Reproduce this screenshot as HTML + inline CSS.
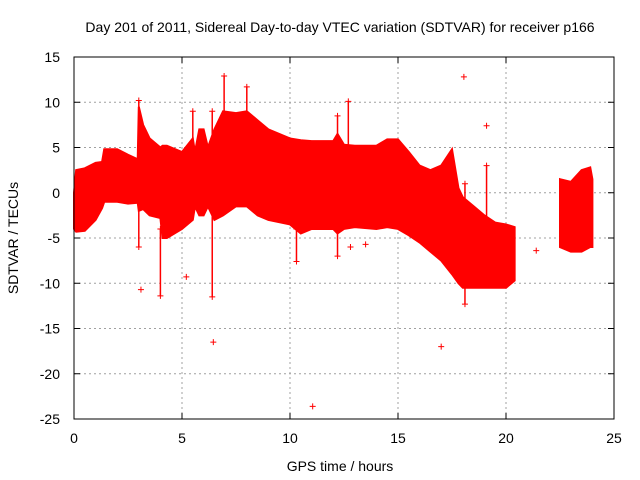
<!DOCTYPE html>
<html><head><meta charset="utf-8"><style>
body{margin:0;background:#fff;}
svg{display:block;font-family:"Liberation Sans",sans-serif;}
</style></head><body>
<svg id="chart" width="640" height="480">
<text x="340" y="32" font-size="14" text-anchor="middle">Day 201 of 2011, Sidereal Day-to-day VTEC variation (SDTVAR) for receiver p166</text>
<text x="340" y="471" font-size="14" text-anchor="middle">GPS time / hours</text>
<text transform="translate(18,238) rotate(-90)" font-size="14" text-anchor="middle">SDTVAR / TECUs</text>
<g id="grid"></g><g id="data"></g>
<rect x="74" y="57" width="540" height="362" fill="none" stroke="#000"/>
</svg>
<script>
const xTicks=[0,5,10,15,20,25];
const yTicks=[15,10,5,0,-5,-10,-15,-20,-25];
const bandHours=[0,0.1,0.5,1.0,1.3,1.4,2.0,2.5,2.95,3.0,3.2,3.5,4.0,4.1,4.3,5.0,5.5,5.6,5.8,6.0,6.2,6.5,6.9,7.5,8.0,8.5,9.0,10.0,10.5,11.0,12.0,12.2,12.5,13.0,14.0,14.5,15.0,15.5,16.0,16.5,17.0,17.5,17.8,18.0,18.5,19.0,19.5,20.0,20.4];
const bandTop=[0,2.5,2.7,3.3,3.4,4.8,4.8,4.2,3.7,9.5,7.5,6.0,5.0,5.2,5.2,4.5,6.0,4.5,7.0,7.0,5.0,7.0,9.0,8.8,9.0,8.0,7.0,6.0,5.8,5.7,5.7,6.5,5.3,5.2,5.2,5.9,5.9,4.5,3.0,2.5,3.0,4.8,0.5,-0.5,-1.5,-2.5,-3.3,-3.5,-3.8];
const bandBottom=[-4,-4.3,-4.2,-3,-1.7,-1.0,-1.0,-1.2,-1.1,-2,-1.8,-2.5,-2.8,-5,-5,-4,-3,-1.5,-2.5,-2.5,-1.5,-3,-2.5,-1.5,-1.5,-2.5,-3,-3.5,-4.5,-4,-4,-4.5,-4,-3.8,-4,-3.8,-4,-4.7,-5.5,-6.5,-7.5,-9,-10,-10.5,-10.5,-10.5,-10.5,-10.5,-9.7];
const band2Hours=[22.5,23.0,23.5,23.9,24.0];
const band2Top=[1.5,1.2,2.5,2.8,1.5];
const band2Bottom=[-6,-6.5,-6.5,-6.0,-6];
const spikeHours=[3.0,4.0,6.4,6.95,8.0,5.5,12.2,12.7,18.1,19.1,10.3];
const spikeTop=[10.2,-4,9,12.9,11.7,9,8.5,10.1,1,3,-4];
const spikeBottom=[-6,-11.4,-11.5,5,8,5,-7,5,-12.3,-3,-7.6];
const outlierHours=[3.1,5.2,6.45,11.05,17.0,18.05,19.1,21.4,12.8,13.5];
const outlierValues=[-10.7,-9.3,-16.5,-23.6,-17,12.8,7.4,-6.4,-6,-5.7];

const NS='http://www.w3.org/2000/svg';
const X=h=>74+h*21.6;
const Y=v=>57+(15-v)*9.05;
const grid=document.getElementById('grid'),data=document.getElementById('data');
function mk(tag,attrs,parent){const e=document.createElementNS(NS,tag);for(const k in attrs)e.setAttribute(k,attrs[k]);parent.appendChild(e);return e;}
xTicks.forEach(t=>{
  if(t>0&&t<25){const g=mk('line',{x1:X(t),x2:X(t),y1:57,y2:419,stroke:'#a0a0a0','stroke-dasharray':'2,3'},grid);
  
  }
  const l=mk('text',{x:X(t),y:443,'font-size':14,'text-anchor':'middle'},grid);l.textContent=t;
  
  
  mk('line',{x1:X(t),x2:X(t),y1:419,y2:413,stroke:'#000'},grid);
  mk('line',{x1:X(t),x2:X(t),y1:57,y2:63,stroke:'#000'},grid);
});
yTicks.forEach(t=>{
  if(t<15&&t>-25){const g=mk('line',{x1:74,x2:614,y1:Y(t),y2:Y(t),stroke:'#a0a0a0','stroke-dasharray':'2,3'},grid);
  
  }
  const l=mk('text',{x:60,y:Y(t)+5,'font-size':14,'text-anchor':'end'},grid);l.textContent=t;
  
  
  mk('line',{x1:74,x2:80,y1:Y(t),y2:Y(t),stroke:'#000'},grid);
  mk('line',{x1:614,x2:608,y1:Y(t),y2:Y(t),stroke:'#000'},grid);
});
function band(hs,top,bot,name){
  let p=hs.map((h,i)=>X(h)+','+Y(top[i]));
  for(let i=hs.length-1;i>=0;i--)p.push(X(hs[i])+','+Y(bot[i]));
  const e=mk('polygon',{points:p.join(' '),fill:'#ff0000',stroke:'#ff0000','stroke-width':2},data);
  
  
}
band(bandHours,bandTop,bandBottom,'sdtvar-band-main');
band(band2Hours,band2Top,band2Bottom,'sdtvar-band-late');
function plus(x,y){mk('path',{d:`M${x-3},${y}h6M${x},${y-3}v6`,stroke:'#ff0000','stroke-width':1},data);}
spikeHours.forEach((h,i)=>{
  const e=mk('line',{x1:X(h),x2:X(h),y1:Y(spikeTop[i]),y2:Y(spikeBottom[i]),stroke:'#ff0000','stroke-width':1.5},data);
  
  
  plus(X(h),Y(spikeTop[i]));plus(X(h),Y(spikeBottom[i]));
});
outlierHours.forEach((h,i)=>{
  const e=mk('path',{d:`M${X(h)-3},${Y(outlierValues[i])}h6M${X(h)},${Y(outlierValues[i])-3}v6`,stroke:'#ff0000','stroke-width':1},data);
  
  
});
</script>
</body></html>
